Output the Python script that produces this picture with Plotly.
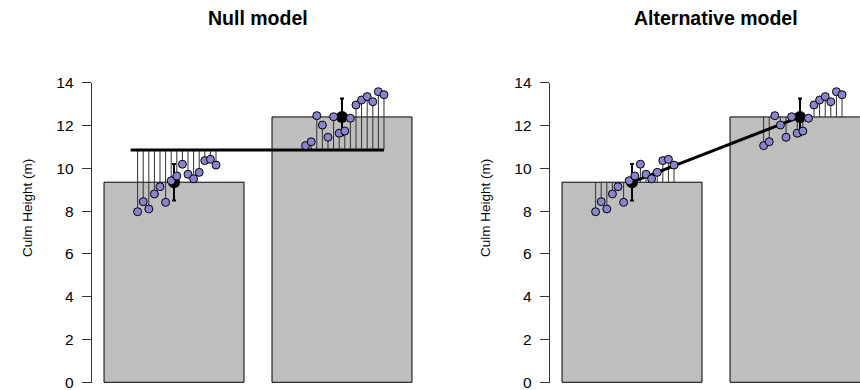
import plotly.graph_objects as go

# ---- data ----
bar_x = [0.7, 1.9]
bar_means = [9.35, 12.4]
bar_err = [0.85, 0.86]
grand_mean = 10.86

x_g1 = [0.44, 0.48, 0.52, 0.56, 0.60, 0.64, 0.68, 0.72, 0.76, 0.80, 0.84, 0.88, 0.92, 0.96, 1.00]
y_g1 = [7.97, 8.44, 8.10, 8.80, 9.14, 8.41, 9.42, 9.64, 10.19, 9.72, 9.51, 9.81, 10.36, 10.42, 10.15]
x_g2 = [1.64, 1.68, 1.72, 1.76, 1.80, 1.84, 1.88, 1.92, 1.96, 2.00, 2.04, 2.08, 2.12, 2.16, 2.20]
y_g2 = [11.06, 11.24, 12.46, 12.02, 11.45, 12.41, 11.64, 11.74, 12.34, 12.96, 13.19, 13.35, 13.11, 13.58, 13.44]

null_line_x = [0.39, 2.2]
y_ticks = [0, 2, 4, 6, 8, 10, 12, 14]
titles = ["Null model", "Alternative model"]
y_label = "Culm Height (m)"

# ---- styling ----
PT_FILL = "#8884CD"
BAR_FILL = "#BEBEBE"
FONT = "Liberation Sans, Arial, Helvetica, sans-serif"

fig = go.Figure()


def add_panel(xa, ya, model):
    fig.add_trace(go.Bar(x=bar_x, y=bar_means, width=1, xaxis=xa, yaxis=ya,
                         marker=dict(color=BAR_FILL, line=dict(color="black", width=1)),
                         showlegend=False, hoverinfo="skip"))
    sx, sy = [], []
    for gx, gy, gm in ((x_g1, y_g1, bar_means[0]), (x_g2, y_g2, bar_means[1])):
        for xv, yv in zip(gx, gy):
            target = grand_mean if model == "null" else gm
            sx += [xv, xv, None]
            sy += [yv, target, None]
    fig.add_trace(go.Scatter(x=sx, y=sy, mode="lines", xaxis=xa, yaxis=ya,
                             line=dict(color="#303030", width=1),
                             showlegend=False, hoverinfo="skip"))
    if model == "null":
        lx, ly = null_line_x, [grand_mean, grand_mean]
    else:
        lx, ly = bar_x, bar_means
    fig.add_trace(go.Scatter(x=lx, y=ly, mode="lines", xaxis=xa, yaxis=ya,
                             line=dict(color="black", width=3),
                             showlegend=False, hoverinfo="skip"))
    fig.add_trace(go.Scatter(x=bar_x, y=bar_means, mode="markers", xaxis=xa, yaxis=ya,
                             marker=dict(color="black", size=12),
                             error_y=dict(type="data", array=bar_err, color="black",
                                          thickness=2, width=2),
                             showlegend=False, hoverinfo="skip"))
    fig.add_trace(go.Scatter(x=x_g1 + x_g2, y=y_g1 + y_g2, mode="markers",
                             xaxis=xa, yaxis=ya,
                             marker=dict(color=PT_FILL, size=8,
                                         line=dict(color="black", width=1)),
                             showlegend=False, hoverinfo="skip"))


add_panel("x", "y", "null")
add_panel("x2", "y2", "alt")

W, H = 860, 390
ppu = 21.4
y0_px = 382.3
ybot = -0.03
ydom = [(H - (y0_px - ybot * ppu)) / H, (H - (y0_px - 14 * ppu)) / H]

xcommon = dict(showgrid=False, zeroline=False, showline=False, showticklabels=False,
               ticks="", fixedrange=True, automargin=False)
ycommon = dict(range=[ybot, 14], tickvals=y_ticks, ticktext=[str(v) for v in y_ticks],
               showgrid=False, zeroline=False, showline=True, linecolor="#333333",
               linewidth=1, ticks="outside", ticklen=9, tickcolor="#333333",
               tickwidth=1, ticklabelstandoff=5, automargin=False,
               ticklabeloverflow="allow",
               tickfont=dict(family=FONT, size=15.5, color="black"))

fig.update_layout(
    width=W, height=H,
    margin=dict(l=0, r=0, t=0, b=0, pad=0, autoexpand=False),
    paper_bgcolor="white", plot_bgcolor="white",
    barmode="overlay",
    xaxis=dict(domain=[91.7 / W, 424.3 / W], range=[0.112, 2.488], **xcommon),
    xaxis2=dict(domain=[549.7 / W, 1.0], range=[0.112, 0.112 + (W - 549.7) / 140], **xcommon),
    yaxis=dict(domain=ydom, anchor="x", **ycommon),
    yaxis2=dict(domain=ydom, anchor="x2", **ycommon),
)

annotations = []
for cx, t in ((258, titles[0]), (716, titles[1])):
    annotations.append(dict(text="<b>" + t + "</b>", x=cx / W, y=(H - 18) / H,
                            xref="paper", yref="paper", xanchor="center", yanchor="middle",
                            showarrow=False, font=dict(family=FONT, size=19.5, color="black")))
for cx in (27, 27 + 458):
    annotations.append(dict(text=y_label, x=cx / W, y=(H - 208) / H, textangle=-90,
                            xref="paper", yref="paper", xanchor="center", yanchor="middle",
                            showarrow=False, font=dict(family=FONT, size=13.5, color="black")))
fig.update_layout(annotations=annotations)

fig.write_html("out.html")
